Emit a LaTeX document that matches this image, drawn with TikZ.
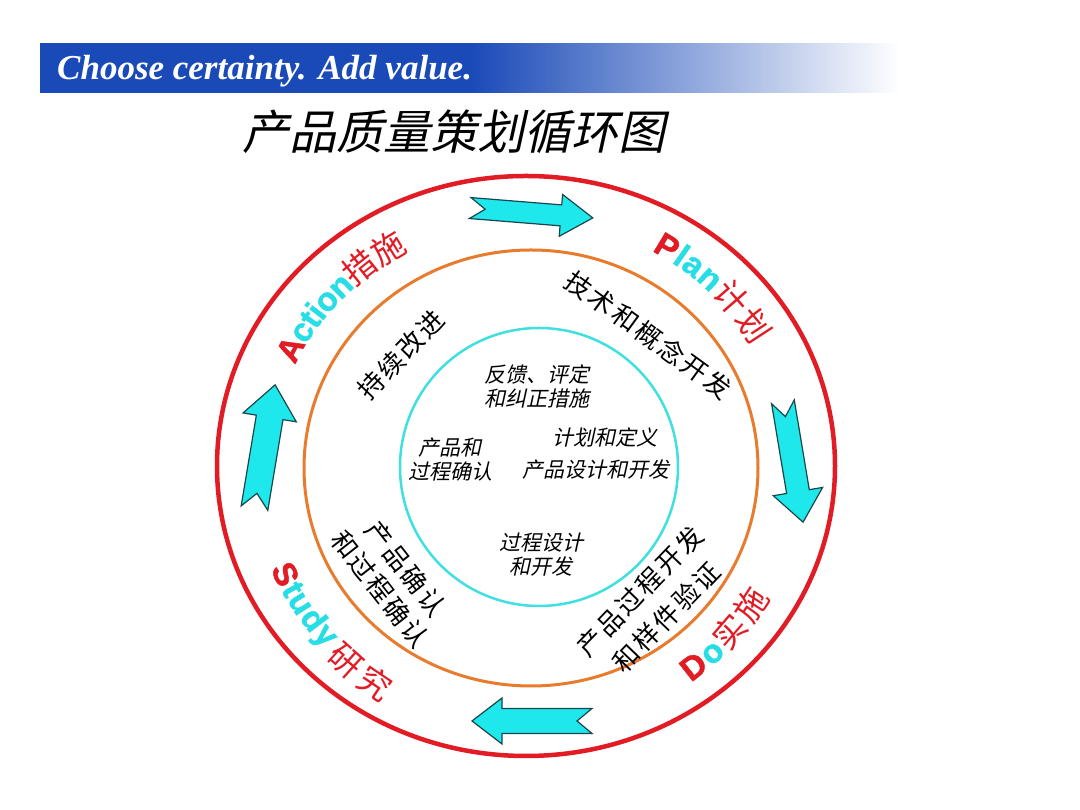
\documentclass[tikz,border=0pt]{standalone}
\usepackage{fontspec}
\setmainfont{Liberation Serif}
\newfontfamily\cjk{Noto Sans CJK SC}
\newfontfamily\cjkit[FakeSlant=0.22]{Noto Sans CJK SC}
\newfontfamily\lbl[FakeBold=1.3]{Liberation Sans Bold}
\newfontfamily\bannerfont{Liberation Serif}
\usetikzlibrary{calc}
\definecolor{cRed}{RGB}{226,28,36}
\definecolor{cOrange}{RGB}{232,124,46}
\definecolor{cCyan}{RGB}{64,224,226}
\definecolor{aFill}{RGB}{30,232,236}
\definecolor{aLine}{RGB}{25,70,75}
\definecolor{lCyan}{RGB}{40,222,230}
\definecolor{bBlue}{RGB}{26,74,184}
\newcommand\ks{\kern2.5pt}
\newcommand\NotchArrow[8]{%
  \begin{scope}[shift={(#1,#2)}, rotate=#3]
    \filldraw[arrowsty] ({-#4/2},#5) -- ({#4/2-#7},#5) -- ({#4/2-#7},#6) -- ({#4/2},0)
      -- ({#4/2-#7},-#6) -- ({#4/2-#7},-#5) -- ({-#4/2},-#5) -- ({-#4/2+#8},0) -- cycle;
  \end{scope}}
\tikzset{
  arrowsty/.style={fill=aFill, draw=aLine, line width=1.2pt, line join=miter},
  lblchar/.style={anchor=base, inner sep=0pt, font=\lbl\fontsize{33}{33}\selectfont},
  ringtxt/.style={inner sep=0pt, align=center, font=\cjk\fontsize{26}{33}\selectfont},
  ctxt/.style={inner sep=0pt, align=center, font=\cjkit\fontsize{21}{24}\selectfont},
  titletxt/.style={inner sep=0pt, font=\cjkit\fontsize{47}{47}\selectfont},
  bannertxt/.style={inner sep=0pt, text=white, font=\bannerfont\bfseries\itshape\fontsize{35}{35}\selectfont}
}
\begin{document}
\begin{tikzpicture}[x=1pt,y=1pt]
\useasboundingbox (0,0) rectangle (1080,810);
\fill[white] (0,0) rectangle (1080,810);
\begin{scope}[shift={(0,810)}]
% banner
\shade[left color=bBlue, right color=white, middle color=bBlue] (40,-44) rectangle (900,-93);
\node[bannertxt, anchor=base west] (banner) at (57,-80) {Choose certainty. Add value.};
% title
\node[titletxt] (title) at (454,-132) {产品质量策划循环图};
% rings
\draw[cRed, line width=4.5pt] (526,-466) ellipse [x radius=309, y radius=290];
\draw[cOrange, line width=3pt] (531,-468) ellipse [x radius=227, y radius=218];
\draw[cCyan, line width=2.5pt] (539,-467) circle [radius=139];
\coordinate (L) at (528,-467);
% Action
\foreach \a/\t/\c in {152.36/A/cRed, 147.70/c/lCyan, 144.45/t/lCyan, 142.21/i/lCyan,
  138.96/o/lCyan, 134.49/n/lCyan, 128.61/{\cjk 措}/cRed, 121.30/{\cjk 施}/cRed}
  \node[lblchar, text=\c, rotate=\a-90] at ($(L)+(\a:257 and 243)$) {\t};
% Plan
\foreach \a/\t/\c in {58.89/P/cRed, 55.19/l/lCyan, 51.92/a/lCyan, 47.34/n/lCyan,
  41.02/{\cjk 计}/cRed, 33.18/{\cjk 划}/cRed}
  \node[lblchar, text=\c, rotate=\a-90] at ($(L)+(\a:258 and 246)$) {\t};
% Study
\foreach \a/\t/\c in {205.0/S/cRed, 208.76/t/lCyan, 212.31/u/lCyan, 216.91/d/lCyan,
  221.3/y/lCyan}
  \node[lblchar, text=\c, rotate=\a+90] at ($(L)+(\a:279 and 265)$) {\t};
\foreach \a/\t/\c in {228.0/{\cjk 研}/cRed, 236.0/{\cjk 究}/cRed}
  \node[lblchar, text=\c, rotate=\a+90] at ($(L)+(\a:285 and 273)$) {\t};
% Do
\foreach \a/\t/\c in {-51.8/D/cRed, -46.77/o/lCyan, -40.71/{\cjk 实}/cRed,
  -33.19/{\cjk 施}/cRed}
  \node[lblchar, text=\c, rotate=\a+90] at ($(L)+(\a:279 and 265)$) {\t};
% arrows
\NotchArrow{531.5}{-213}{-4.6}{123}{10.5}{21}{32}{15}
\NotchArrow{793}{-462}{-80.5}{122}{11.5}{25}{31}{15}
\NotchArrow{532}{-721}{180}{120}{12.5}{23}{30}{15}
\NotchArrow{264.8}{-446.5}{80.5}{125}{13.5}{27}{33}{15}
% orange ring texts
\node[ringtxt, rotate=46] (r1) at (401,-355) {持\ks 续\ks 改\ks 进};
\node[ringtxt, rotate=-36] (r2) at (648.5,-335) {技\ks 术\ks 和\ks 概\ks 念\ks 开\ks 发};
\node[ringtxt, rotate=-52] (r3) at (393,-579) {产\ks 品\ks 确\ks 认\\和\ks 过\ks 程\ks 确\ks 认};
\node[ringtxt, rotate=46, font=\cjk\fontsize{26}{37}\selectfont] (r4) at (653,-604) {产\ks 品\ks 过\ks 程\ks 开\ks 发\\和\ks 样\ks 件\ks 验\ks 证};
% centre texts
\node[ctxt] (c1) at (537,-386) {反馈、评定\\和纠正措施};
\node[ctxt] (c2) at (605,-437) {计划和定义};
\node[ctxt] (c3) at (596,-470) {产品设计和开发};
\node[ctxt] (c4) at (450,-460) {产品和\\过程确认};
\node[ctxt] (c5) at (541,-555) {过程设计\\和开发};
\end{scope}
\end{tikzpicture}
\end{document}
